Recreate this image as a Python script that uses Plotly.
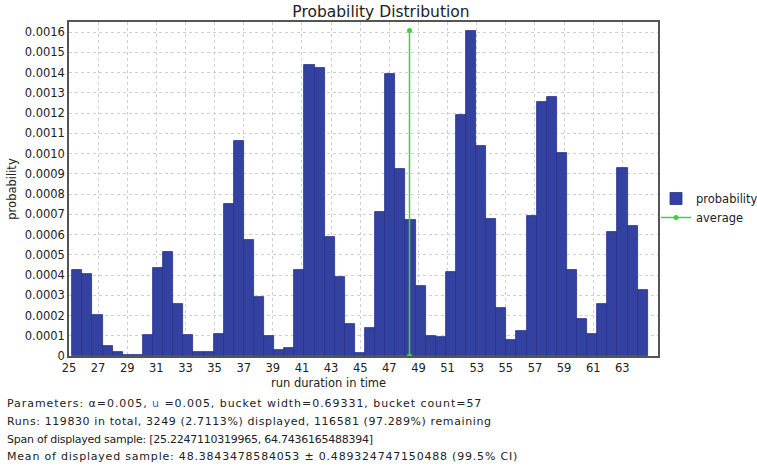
import plotly.graph_objects as go

# ---- data ----
bin_start = 25.2247110319965
bin_width = 0.69331
probability = [
    0.000424, 0.000403, 0.000201, 0.000048, 0.000021, 0.000005, 0.000005, 0.000102,
    0.000437, 0.000515, 0.000256, 0.000102, 0.000021, 0.000021, 0.000110, 0.000750,
    0.001062, 0.000572, 0.000290, 0.000099, 0.000028, 0.000041, 0.000424, 0.001436,
    0.001422, 0.000589, 0.000391, 0.000156, 0.000016, 0.000137, 0.000712, 0.001395,
    0.000922, 0.000674, 0.000347, 0.000099, 0.000092, 0.000413, 0.001192, 0.001608,
    0.001039, 0.000679, 0.000238, 0.000077, 0.000122, 0.000692, 0.001255, 0.001281,
    0.001001, 0.000426, 0.000181, 0.000110, 0.000257, 0.000615, 0.000929, 0.000640,
    0.000324,
]
mean_value = 48.3843478584053

x_tick_vals = list(range(25, 64, 2))
y_tick_vals = [i / 10000 for i in range(17)]
y_tick_text = ["0", "0.0001", "0.0002", "0.0003", "0.0004", "0.0005", "0.0006",
               "0.0007", "0.0008", "0.0009", "0.0010", "0.0011", "0.0012",
               "0.0013", "0.0014", "0.0015", "0.0016"]

info_lines = [
    "Parameters: \u03b1=0.005, <span style='color:#3a5bd0'>u</span> =0.005, bucket width=0.69331, bucket count=57",
    "Runs: 119830 in total, 3249 (2.7113%) displayed, 116581 (97.289%) remaining",
    "Span of displayed sample: [25.2247110319965, 64.7436165488394]",
    "Mean of displayed sample: 48.3843478584053 \u00b1 0.489324747150488 (99.5% CI)",
]
info_spacing = [0.95, 0.6, -0.25, 0.8]

bin_centers = [bin_start + (i + 0.5) * bin_width for i in range(len(probability))]

FONT = "DejaVu Sans"
W, H = 757, 470
L, R, T, B = 69, 99, 22, 114
PW, PH = W - L - R, H - T - B

fig = go.Figure()
fig.add_trace(go.Bar(
    x=bin_centers, y=probability, width=bin_width, name="probability",
    marker=dict(color="#3341a1", line=dict(color="#27318a", width=0.8)),
))
fig.add_trace(go.Scatter(
    x=[mean_value, mean_value], y=[0, max(probability)], name="average",
    mode="lines+markers",
    line=dict(color="#3fd13f", width=1.5),
    marker=dict(color="#3fd13f", size=5),
))

annotations = []
for i, line in enumerate(info_lines):
    annotations.append(dict(
        text=f"<span style='letter-spacing:{info_spacing[i]}px'>{line}</span>",
        x=(5 - L) / PW, y=(H - B - (403 + 18 * i)) / PH, xref="paper", yref="paper",
        xanchor="left", yanchor="middle", showarrow=False,
        font=dict(family=FONT, size=11, color="#222")))
annotations.append(dict(text="run duration in time", x=(328 - L) / PW, y=(H - B - 383) / PH,
                        xref="paper", yref="paper",
                        xanchor="center", yanchor="middle", showarrow=False,
                        font=dict(family=FONT, size=11.5, color="#222")))

fig.update_layout(
    width=W, height=H,
    margin=dict(l=L, r=R, t=T, b=B, autoexpand=False),
    paper_bgcolor="white", plot_bgcolor="white",
    bargap=0,
    font=dict(family=FONT, size=11.5, color="#222"),
    title=dict(text="Probability Distribution", x=381 / W, xref="container", xanchor="center",
               y=1 - 12 / H, yanchor="middle", yref="container",
               font=dict(family=FONT, size=15.5, color="#222")),
    xaxis=dict(range=[25, 65.45], tickvals=x_tick_vals, showgrid=True,
               gridcolor="#cfcfcf", griddash="dot", gridwidth=1,
               showline=True, mirror=True, linecolor="#555", linewidth=1.5,
               ticks="", zeroline=False, tickfont=dict(size=11.5)),
    yaxis=dict(range=[0, 0.00165], tickvals=y_tick_vals, ticktext=y_tick_text,
               showgrid=True, gridcolor="#cfcfcf", griddash="dot", gridwidth=1,
               showline=True, mirror=True, linecolor="#555", linewidth=1.5,
               ticks="", zeroline=False, tickfont=dict(size=11.5),
               title=dict(text="probability", standoff=6, font=dict(size=11.5))),
    legend=dict(x=656 / W, y=1 - 184 / H, xref="container", yref="container",
                xanchor="left", yanchor="top",
                font=dict(family=FONT, size=11.5), itemwidth=30,
                tracegroupgap=0, bgcolor="rgba(0,0,0,0)"),
    annotations=annotations,
)

fig.write_html("out.html")
